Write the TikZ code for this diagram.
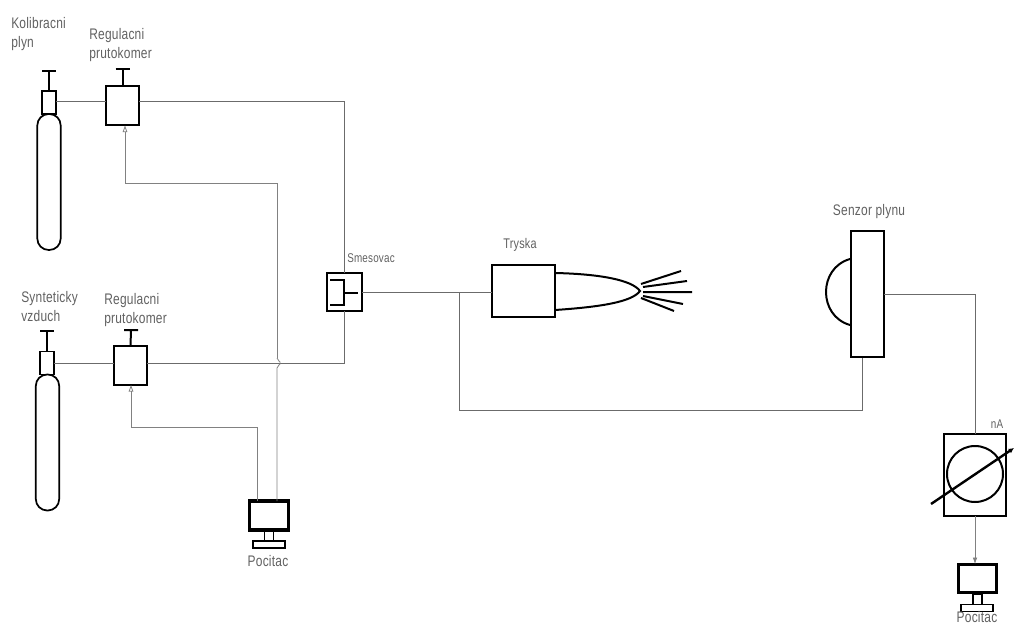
\documentclass[tikz,border=0pt]{standalone}
\usepackage{fontspec}
\setsansfont[FakeStretch=0.78,LetterSpace=1.5]{Liberation Sans}
\usetikzlibrary{positioning,arrows.meta,calc}
\definecolor{wire}{gray}{0.42}
\definecolor{lbl}{gray}{0.38}
\tikzset{
  thickbox/.style={draw=black, line width=1.6pt, fill=white, inner sep=0pt, outer sep=0pt},
  regbox/.style={thickbox, minimum width=24.75pt, minimum height=29.25pt},
  neckbox/.style={thickbox, line width=1.3pt, minimum width=10.5pt, minimum height=17.25pt},
  bodybox/.style={thickbox, line width=1.3pt, rounded corners=8.5pt, minimum width=17.5pt, minimum height=102pt},
  monbox/.style={thickbox, line width=2.6pt, minimum width=29pt, minimum height=21.5pt},
  monstand/.style={thickbox, line width=1.1pt, minimum width=6.5pt, minimum height=7.5pt},
  monbase/.style={thickbox, line width=1.1pt, minimum width=24pt, minimum height=5.25pt},
  tee/.style={line width=1.5pt, draw=black},
  wireline/.style={line width=0.6pt, draw=wire},
  ctrlline/.style={line width=0.6pt, draw=wire!85},
  ctrltip/.style={-{Triangle[open, length=5pt, width=3.5pt]}},
  lblnode/.style={font=\sffamily\fontsize{11.5}{14.5}\selectfont, text=lbl, align=left, inner sep=0pt},
  smalllbl/.style={lblnode, font=\sffamily\fontsize{9.5}{12}\selectfont}
}
\begin{document}
\begin{tikzpicture}[x=0.75pt, y=-0.75pt]
\clip (0,0) rectangle (1014,624);
% gas bottles and flow regulators, px coordinates from the top left
\node[neckbox] (neckA) at (49,102.5) {};
\node[bodybox] (bodyA) at (49,182) {};
\node[regbox] (regA) at (122.5,105.5) {};
\node[neckbox] (neckB) at (47,363) {};
\node[bodybox] (bodyB) at (47.5,442.5) {};
\node[regbox] (regB) at (130.5,365.5) {};
\coordinate (capA) at (49,71);
\coordinate (knobA) at (122.5,69);
\coordinate (capB) at (47,331);
\coordinate (knobB) at (131,330);
\draw[tee] (neckA.north) -- (capA) ($(capA)+(-7,0)$) -- ($(capA)+(7,0)$);
\draw[tee] (regA.north) -- (knobA) ($(knobA)+(-7,0)$) -- ($(knobA)+(7,0)$);
\draw[tee] (neckB.north) -- (capB) ($(capB)+(-7,0)$) -- ($(capB)+(7,0)$);
\draw[tee] (regB.north) -- (knobB) ($(knobB)+(-7,0)$) -- ($(knobB)+(7,0)$);
% mixer, nozzle, sensor, meter
\node[thickbox, minimum width=26pt, minimum height=28.5pt] (mixer) at (344.5,292) {};
\draw[tee] (330,280) -- (344,280) -- (344,305) -- (330,305) (344,292.5) -- (358,292.5);
\node[thickbox, minimum width=47pt, minimum height=39pt] (nozzle) at (523.5,291) {};
\coordinate (tip) at (640,291);
\draw[tee] (555,273) .. controls (600,274) and (632,280) .. (tip) .. controls (632,302) and (600,307) .. (555,310);
\draw[tee] (641,284) -- (681,271) (643,287) -- (687,281) (643,292) -- (692,292) (643,296) -- (683,304) (641,298) -- (674,311);
\node[thickbox, line width=1.4pt, minimum width=25pt, minimum height=94.5pt] (sensor) at (867.5,294) {};
\draw[tee] (850,259) .. controls (818,268) and (818,316) .. (850,325);
\node[thickbox, line width=1.4pt, minimum width=46.5pt, minimum height=61.5pt] (meter) at (975,475) {};
\node[draw=black, line width=1.5pt, circle, minimum size=42pt, inner sep=0pt] (dial) at (975,474) {};
\draw[tee, line width=1.8pt, -{Latex[length=4pt, width=4pt]}] (931,504) -- (1014,448);
% computers
\node[monbox] (pcA) at (269,515.5) {};
\node[monstand] (standA) at (269,536) {};
\node[monbase] (baseA) at (269,544.5) {};
\node[monbox, line width=2.2pt] (pcB) at (977.5,578.5) {};
\node[monstand] (standB) at (977.5,599.5) {};
\node[monbase] (baseB) at (977,608) {};
% pipes
\coordinate (feedA) at (0,101);
\coordinate (feedB) at (0,363);
\coordinate (branch) at (459,292);
\coordinate (loop) at (0,410);
\coordinate (out) at (0,294);
\draw[wireline] (neckA.east |- feedA) -- (regA.west |- feedA);
\draw[wireline] (regA.east |- feedA) -| (mixer.north);
\draw[wireline] (neckB.east |- feedB) -- (regB.west |- feedB);
\draw[wireline] (regB.east |- feedB) -| (mixer.south);
\draw[wireline] (mixer.east) -- (nozzle.west |- mixer.east);
\draw[wireline] (branch) |- (loop -| 862,0) -- (862,358);
\draw[wireline] (sensor.east |- out) -| (meter.north);
\draw[ctrlline, -{Latex[length=5pt, width=3.5pt]}] (meter.south) -- (meter.south |- pcB.north);
% control lines from the computer
\draw[ctrlline, ctrltip] (277,358) -- (277,183) -| (125,125.5);
\draw[ctrlline] (pcA.north -| 277,0) -- (277,368) .. controls (277,365) and (281,365) .. (280,363) .. controls (281,361) and (277,361) .. (277,358);
\draw[ctrlline, ctrltip] (pcA.north -| 257,0) |- (131,427) -- (regB.south -| 131,0);
% labels
\node[lblnode, anchor=north west] (lblA) at (11,17) {Kolibracni\\plyn};
\node[lblnode, anchor=north west] (lblB) at (89,28) {Regulacni\\prutokomer};
\node[lblnode, anchor=north west] (lblC) at (21,291) {Synteticky\\vzduch};
\node[lblnode, anchor=north west] (lblD) at (104,293) {Regulacni\\prutokomer};
\node[lblnode] (lblE) at (268,561) {Pocitac};
\node[smalllbl] (lblF) at (371,258) {Smesovac};
\node[lblnode, font=\sffamily\fontsize{10.5}{13}\selectfont] (lblG) at (520,245) {Tryska};
\node[lblnode] (lblH) at (869,212) {Senzor plynu};
\node[smalllbl] (lblI) at (997,424) {nA};
\node[lblnode] (lblJ) at (977,617) {Pocitac};
\end{tikzpicture}
\end{document}
